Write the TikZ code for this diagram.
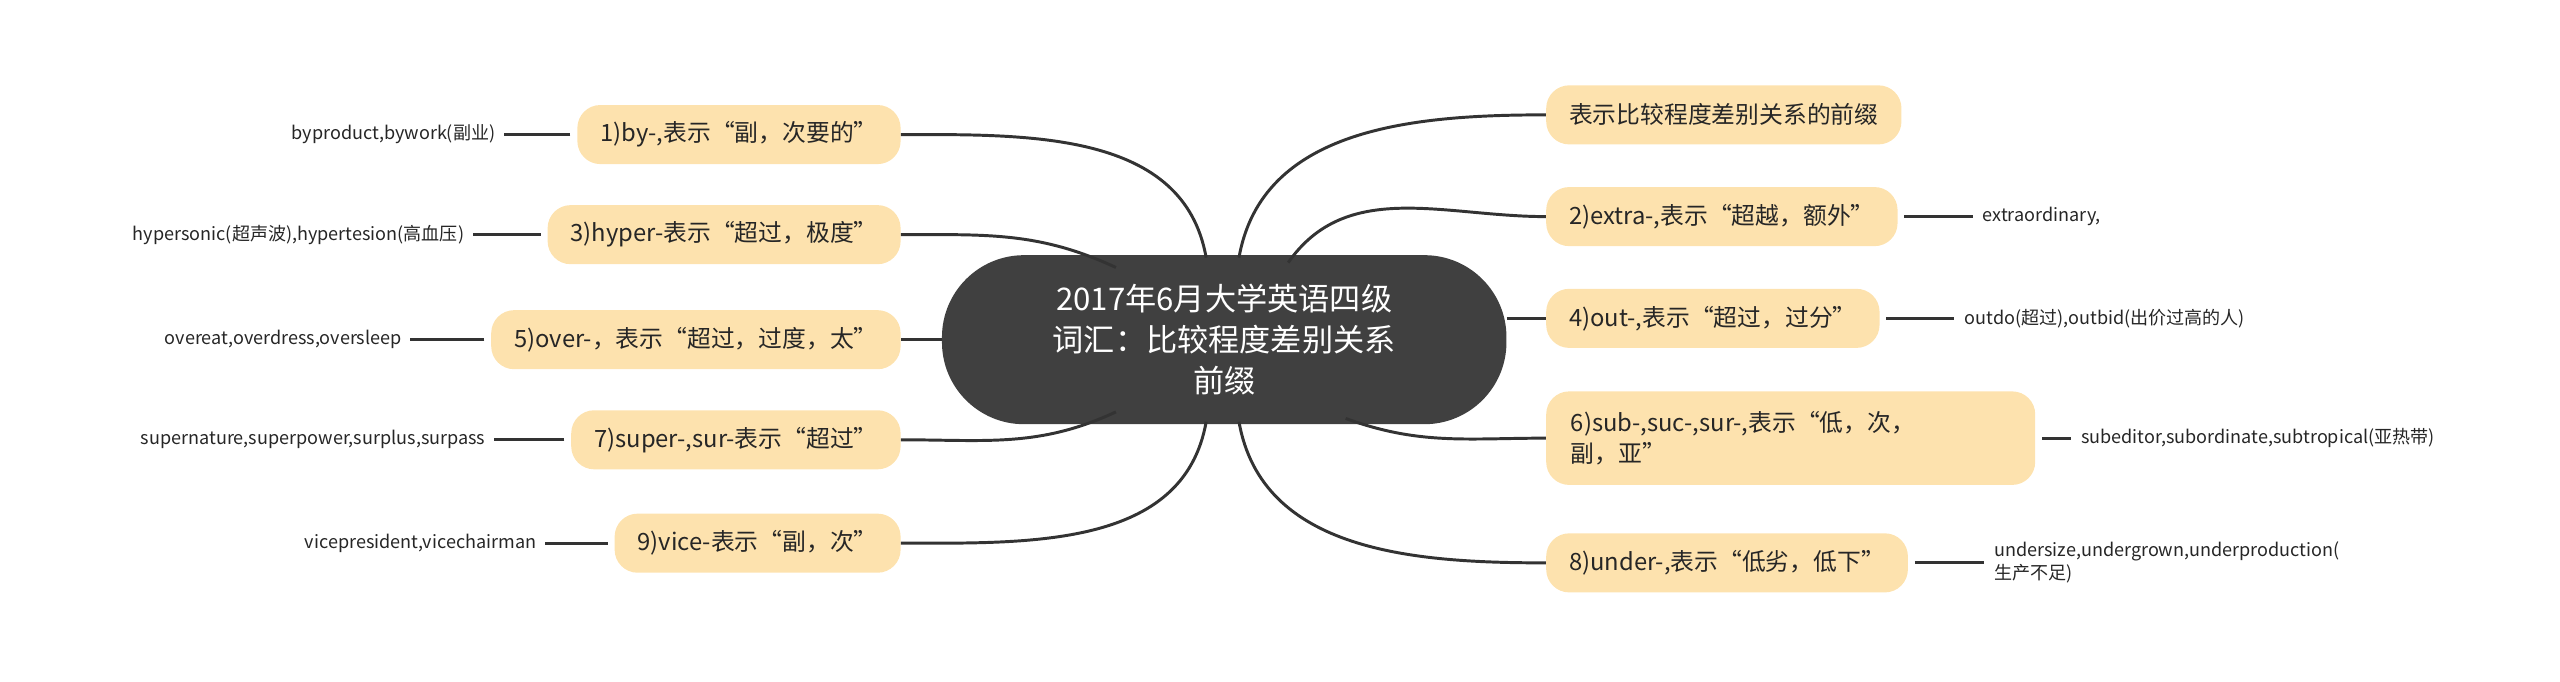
\documentclass[tikz,border=0pt]{standalone}
\usepackage{fontspec}
\setmainfont{Noto Sans CJK SC}
\begin{document}
\begin{tikzpicture}[x=1pt,y=1pt,
 br/.style={fill=brc,rounded corners=14pt,inner xsep=14pt,minimum height=36pt,font=\fontsize{14.5}{19}\selectfont,text=black!85},
 lf/.style={font=\fontsize{11}{14}\selectfont,inner sep=0pt,text=black!85,align=left},
 cn/.style={draw=black!80,line width=1.8pt},
 ln/.style={draw=black!80,line width=1.8pt}]
\definecolor{brc}{HTML}{FDE2AE}
\definecolor{cc}{HTML}{404040}
\useasboundingbox (0,0) rectangle (1560,415);
\node[fill=cc,rounded corners=50pt,minimum width=344pt,minimum height=103pt,align=center,text=white,font=\fontsize{19}{25}\selectfont] (c) at (746,208) {2017年6月大学英语四级\\词汇：比较程度差别关系\\前缀};
% left
\node[br,anchor=east] (l1) at (549,333) {1)by-,表示“副，次要的”};
\node[br,anchor=east] (l3) at (549,272) {3)hyper-表示“超过，极度”};
\node[br,anchor=east] (l5) at (549,208) {5)over-，表示“超过，过度，太”};
\node[br,anchor=east] (l7) at (549,147) {7)super-,sur-表示“超过”};
\node[br,anchor=east] (l9) at (549,84) {9)vice-表示“副，次”};
\node[lf,anchor=east] (a1) at (302,333) {byproduct,bywork(副业)};
\node[lf,anchor=east] (a3) at (283,272) {hypersonic(超声波),hypertesion(高血压)};
\node[lf,anchor=east] (a5) at (245,208) {overeat,overdress,oversleep};
\node[lf,anchor=east] (a7) at (296,147) {supernature,superpower,surplus,surpass};
\node[lf,anchor=east] (a9) at (327,84) {vicepresident,vicechairman};
% right
\node[br,anchor=west] (r0) at (942,345) {表示比较程度差别关系的前缀};
\node[br,anchor=west] (r2) at (942,283) {2)extra-,表示“超越，额外”};
\node[br,anchor=west] (r4) at (942,221) {4)out-,表示“超过，过分”};
\node[br,anchor=west,minimum height=57pt,text width=268pt,inner xsep=15pt,align=left] (r6) at (942,148) {6)sub-,suc-,sur-,表示“低，次，\\副，亚”};
\node[br,anchor=west] (r8) at (942,72) {8)under-,表示“低劣，低下”};
\node[lf,anchor=west] (b2) at (1208,283) {extraordinary,};
\node[lf,anchor=west] (b4) at (1197,221) {outdo(超过),outbid(出价过高的人)};
\node[lf,anchor=west] (b6) at (1268,148) {subeditor,subordinate,subtropical(亚热带)};
\node[lf,anchor=west] (b8) at (1215,72) {undersize,undergrown,underproduction(\\生产不足)};
% connectors
\coordinate (s1) at (735,258);
\coordinate (s3) at (680,252);
\coordinate (s7) at (680,164);
\coordinate (s9) at (735,158);
\coordinate (t0) at (755,258);
\coordinate (t2) at (785,255);
\coordinate (t6) at (820,160);
\coordinate (t8) at (755,158);
\draw[cn] (s1) to[out=100,in=0] (l1.east);
\draw[cn] (s3) to[out=155,in=0] (l3.east);
\draw[cn] (c.west) -- (l5.east);
\draw[cn] (s7) to[out=205,in=0] (l7.east);
\draw[cn] (s9) to[out=260,in=0] (l9.east);
\draw[cn] (t0) to[out=80,in=180] (r0.west);
\draw[cn] (t2) to[out=55,in=180] (r2.west);
\draw[cn] (c.east|-r4.west) -- (r4.west);
\draw[cn] (t6) to[out=-20,in=180] (r6.west);
\draw[cn] (t8) to[out=-80,in=180] (r8.west);
\draw[ln] ([xshift=-4pt]l1.west) -- ([xshift=5pt]a1.east);
\draw[ln] ([xshift=-4pt]l3.west) -- ([xshift=5pt]a3.east);
\draw[ln] ([xshift=-4pt]l5.west) -- ([xshift=5pt]a5.east);
\draw[ln] ([xshift=-4pt]l7.west) -- ([xshift=5pt]a7.east);
\draw[ln] ([xshift=-4pt]l9.west) -- ([xshift=5pt]a9.east);
\draw[ln] ([xshift=4pt]r2.east) -- ([xshift=-6pt]b2.west);
\draw[ln] ([xshift=4pt]r4.east) -- ([xshift=-6pt]b4.west);
\draw[ln] ([xshift=4pt]r6.east) -- ([xshift=-6pt]b6.west);
\draw[ln] ([xshift=4pt]r8.east) -- ([xshift=-6pt]b8.west);
\end{tikzpicture}
\end{document}
